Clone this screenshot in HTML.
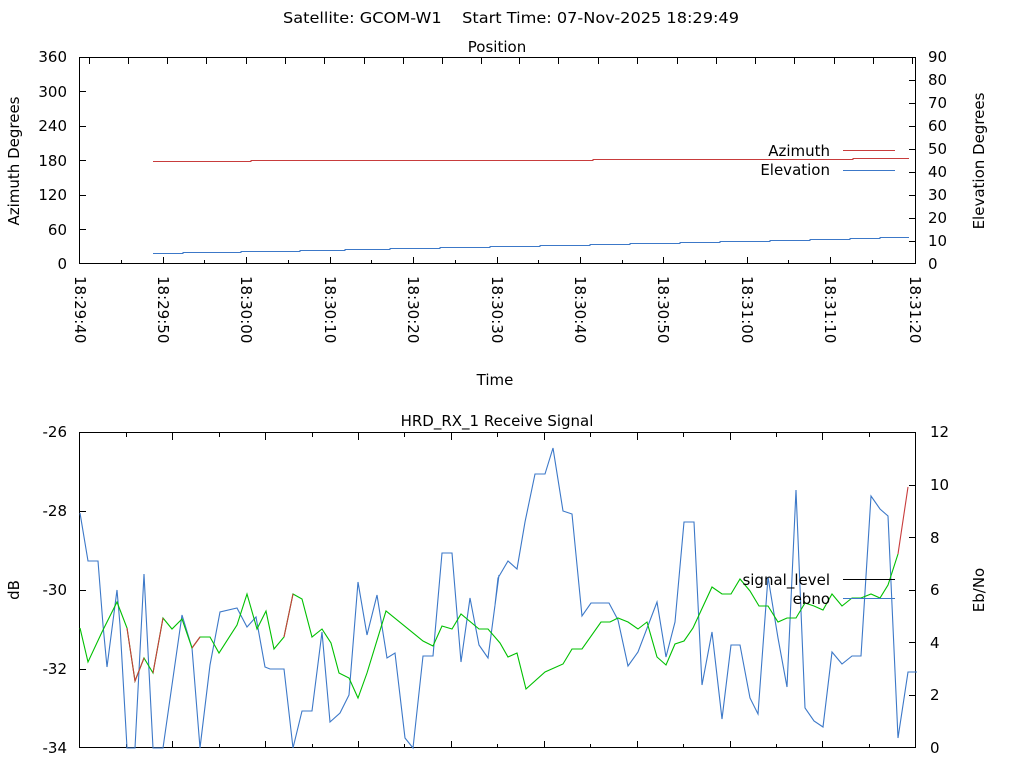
<!DOCTYPE html>
<html><head><meta charset="utf-8"><style>
html,body{margin:0;padding:0;background:#fff;}
svg text{font-family:"DejaVu Sans","Liberation Sans",sans-serif;font-size:15px;fill:#000;}
</style></head><body>
<svg width="1024" height="768" xmlns="http://www.w3.org/2000/svg">
<rect width="1024" height="768" fill="#fff"/>
<text x="511" y="23" text-anchor="middle" textLength="456" lengthAdjust="spacingAndGlyphs" style="white-space:pre">Satellite: GCOM-W1&#160;&#160;&#160;&#160;Start Time: 07-Nov-2025 18:29:49</text>
<text x="497" y="52" text-anchor="middle">Position</text>

<!-- top plot -->
<g stroke="#000" stroke-width="1" fill="none" shape-rendering="crispEdges">
<rect x="79.5" y="57.5" width="836" height="206"/>
<path d="M80 229.5h6M80 195.5h6M80 160.5h6M80 126.5h6M80 91.5h6M915 241.5h-6M915 218.5h-6M915 195.5h-6M915 172.5h-6M915 149.5h-6M915 126.5h-6M915 103.5h-6M915 80.5h-6"/>
<path d="M163.5 264v-7M246.5 264v-7M330.5 264v-7M413.5 264v-7M497.5 264v-7M580.5 264v-7M663.5 264v-7M747.5 264v-7M830.5 264v-7M121.5 264v-4M204.5 264v-4M288.5 264v-4M371.5 264v-4M455.5 264v-4M538.5 264v-4M622.5 264v-4M705.5 264v-4M788.5 264v-4M872.5 264v-4"/>
<path d="M89.5 58v6M128.5 58v6M167.5 58v6M206.5 58v6M246.5 58v6M285.5 58v6M324.5 58v6M364.5 58v6M403.5 58v6M442.5 58v6M481.5 58v6M519.5 58v6M558.5 58v6M598.5 58v6M637.5 58v6M677.5 58v6M716.5 58v6M755.5 58v6M794.5 58v6M834.5 58v6M873.5 58v6M912.5 58v6"/>
</g>
<g text-anchor="end">
<text x="67" y="269">0</text><text x="67" y="235">60</text><text x="67" y="200">120</text><text x="67" y="166">180</text><text x="67" y="131">240</text><text x="67" y="97">300</text><text x="67" y="62">360</text>
</g>
<g>
<text x="928" y="269">0</text><text x="928" y="246">10</text><text x="928" y="223">20</text><text x="928" y="200">30</text><text x="928" y="177">40</text><text x="928" y="154">50</text><text x="928" y="131">60</text><text x="928" y="108">70</text><text x="928" y="85">80</text><text x="928" y="62">90</text>
</g>
<text transform="translate(19,161) rotate(-90)" text-anchor="middle">Azimuth Degrees</text>
<text transform="translate(984,161) rotate(-90)" text-anchor="middle">Elevation Degrees</text>
<g>
<text transform="translate(75,276) rotate(90)">18:29:40</text>
<text transform="translate(158,276) rotate(90)">18:29:50</text>
<text transform="translate(241,276) rotate(90)">18:30:00</text>
<text transform="translate(325,276) rotate(90)">18:30:10</text>
<text transform="translate(408,276) rotate(90)">18:30:20</text>
<text transform="translate(492,276) rotate(90)">18:30:30</text>
<text transform="translate(575,276) rotate(90)">18:30:40</text>
<text transform="translate(658,276) rotate(90)">18:30:50</text>
<text transform="translate(742,276) rotate(90)">18:31:00</text>
<text transform="translate(825,276) rotate(90)">18:31:10</text>
<text transform="translate(910,276) rotate(90)">18:31:20</text>
</g>
<text x="495" y="385" text-anchor="middle">Time</text>
<g fill="none" stroke-width="1" shape-rendering="crispEdges">
<path d="M153 161.5H251V160.5H593V159.5H853V158.5H909" stroke="#c83c3c"/>
<path d="M153 253.5H183V252.5H241V251.5H300V250.5H345V249.5H390V248.5H440V247.5H490V246.5H540V245.5H590V244.5H630V243.5H680V242.5H720V241.5H770V240.5H810V239.5H850V238.5H880V237.5H909" stroke="#3c78c8"/>
<path d="M843 150.5h52" stroke="#c83c3c"/>
<path d="M843 170.5h52" stroke="#3c78c8"/>
</g>
<text x="830" y="156" text-anchor="end">Azimuth</text>
<text x="830" y="175" text-anchor="end">Elevation</text>

<!-- bottom plot -->
<text x="497" y="426" text-anchor="middle">HRD_RX_1 Receive Signal</text>
<g stroke="#000" stroke-width="1" fill="none" shape-rendering="crispEdges">
<rect x="79.5" y="432.5" width="836" height="315"/>
<path d="M80 511.5h6M80 590.5h6M80 669.5h6M915 695.5h-6M915 642.5h-6M915 590.5h-6M915 537.5h-6M915 485.5h-6"/>
<path d="M172.5 748v-7M265.5 748v-7M358.5 748v-7M451.5 748v-7M544.5 748v-7M637.5 748v-7M730.5 748v-7M822.5 748v-7M126.5 748v-4M219.5 748v-4M312.5 748v-4M404.5 748v-4M497.5 748v-4M590.5 748v-4M683.5 748v-4M776.5 748v-4M869.5 748v-4"/>
<path d="M172.5 433v7M265.5 433v7M358.5 433v7M451.5 433v7M544.5 433v7M637.5 433v7M730.5 433v7M822.5 433v7M126.5 433v4M219.5 433v4M312.5 433v4M404.5 433v4M497.5 433v4M590.5 433v4M683.5 433v4M776.5 433v4M869.5 433v4"/>
</g>
<g text-anchor="end">
<text x="67" y="753">-34</text><text x="67" y="674">-32</text><text x="67" y="595">-30</text><text x="67" y="516">-28</text><text x="67" y="437">-26</text>
</g>
<g>
<text x="930" y="753">0</text><text x="930" y="700">2</text><text x="930" y="648">4</text><text x="930" y="595">6</text><text x="930" y="543">8</text><text x="930" y="490">10</text><text x="930" y="437">12</text>
</g>
<text transform="translate(19,590) rotate(-90)" text-anchor="middle">dB</text>
<text transform="translate(984,590) rotate(-90)" text-anchor="middle">Eb/No</text>

<g fill="none" stroke-width="1.1">
<polyline stroke="#3c78c8" points="80,513 88,561 98,561 103,625 107,667 117,590 120,625 127,748 135,748 144,574 153,748 163,748 182,615 192,648 200,748 210,665 220,612 237,608 247,627 256,617 265,667 270,669 284,669 293,748 302,711 312,711 322,632 330,722 340,713 349,695 358,582 367,635 377,595 387,658 395,653 405,738 413,748 423,656 433,656 442,553 452,553 461,662 470,598 479,645 488,658 499,575 495,605 498,578 508,561 517,569 525,522 535,474 545,474 553,448 563,511 572,514 582,616 591,603 609,603 618,620 628,666 638,652 657,602 666,657 675,622 684,522 694,522 702,685 712,632 722,719 731,645 740,645 750,698 758,714 768,577 778,638 787,687 796,490 805,708 814,721 823,727 832,652 842,664 852,656 861,656 871,496 880,509 888,516 898,738 908,672 917,672"/>
<polyline stroke="#00c000" points="80,628 88,662 102,632 117,602 127,628 135,681 144,658 153,673 163,618 172,629 182,619 192,648 200,637 210,637 219,653 237,625 247,594 257,629 266,611 274,649 284,637 293,594 302,599 312,637 322,629 331,643 339,673 349,678 358,698 367,673 386,611 423,641 433,646 442,626 452,629 461,614 479,629 488,629 500,643 508,657 517,653 526,689 545,672 563,664 572,649 582,649 601,622 610,622 618,618 628,622 638,629 647,622 657,657 666,665 675,644 684,641 693,628 712,587 722,594 731,594 740,579 750,591 759,606 768,606 778,622 787,618 796,618 805,603 814,606 823,610 832,594 842,606 852,598 861,598 871,594 880,598 888,585 898,554"/>
<g stroke="#c83c3c">
<polyline points="127,628 135,681 144,658"/>
<polyline points="153,673 163,618"/>
<polyline points="192,648 200,637"/>
<polyline points="284,637 293,594"/>
<polyline points="898,554 908,487"/>
</g>
</g>
<g fill="none" stroke-width="1" shape-rendering="crispEdges">
<path d="M843 579.5h52" stroke="#000"/>
<path d="M843 598.5h52" stroke="#3c78c8"/>
</g>
<text x="830" y="585" text-anchor="end">signal_level</text>
<text x="830" y="604" text-anchor="end">ebno</text>
</svg>
</body></html>
